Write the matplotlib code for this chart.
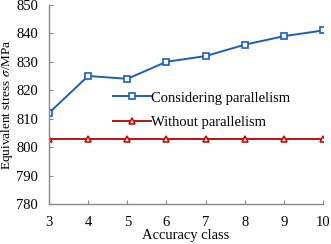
import matplotlib
matplotlib.use("Agg")
from matplotlib import pyplot as plt

accuracy_class = [3, 4, 5, 6, 7, 8, 9, 10]
considering = [812, 825, 824, 830, 832, 836, 839, 841]
without = [803, 803, 803, 803, 803, 803, 803, 803]
y_ticks = [780, 790, 800, 810, 820, 830, 840, 850]

plt.rcParams['font.family'] = ['Liberation Serif', 'DejaVu Serif']
plt.rcParams['mathtext.fontset'] = 'stix'

fig = plt.figure(figsize=(3.31, 2.44), dpi=100)
ax = fig.add_axes([0.148, 0.164, 0.828, 0.816])

ax.plot(accuracy_class, considering, color='#1f5cb8', lw=1.4, marker='s', ms=5,
        mfc='white', mec='#1f5cb8', mew=1.2, label='Considering parallelism')
ax.plot(accuracy_class, without, color='#c01010', lw=1.4, marker='^', ms=5,
        mfc='white', mec='#c01010', mew=1.2, label='Without parallelism')

ax.set_xlim(3, 10)
ax.set_ylim(780, 850)
ax.set_xticks(accuracy_class)
ax.set_yticks(y_ticks)
ax.tick_params(labelsize=10.5, length=3, color='#888888', width=0.8,
               direction='in', pad=8)
ax.tick_params(axis='x', pad=8.5)
for s in ['top', 'right']:
    ax.spines[s].set_visible(False)
for s in ['left', 'bottom']:
    ax.spines[s].set_color('#888888')
    ax.spines[s].set_linewidth(1.0)

ax.set_xlabel('Accuracy class', fontsize=10.5, labelpad=0)
ax.set_ylabel(r'Equivalent stress $\sigma$/MPa', fontsize=9.5, labelpad=1)

ax.legend(loc='center left', bbox_to_anchor=(0.186, 0.472), frameon=False,
          fontsize=10.5, handlelength=2.6, labelspacing=0.75, handletextpad=0.0)

fig.savefig('out.png', dpi=100)
